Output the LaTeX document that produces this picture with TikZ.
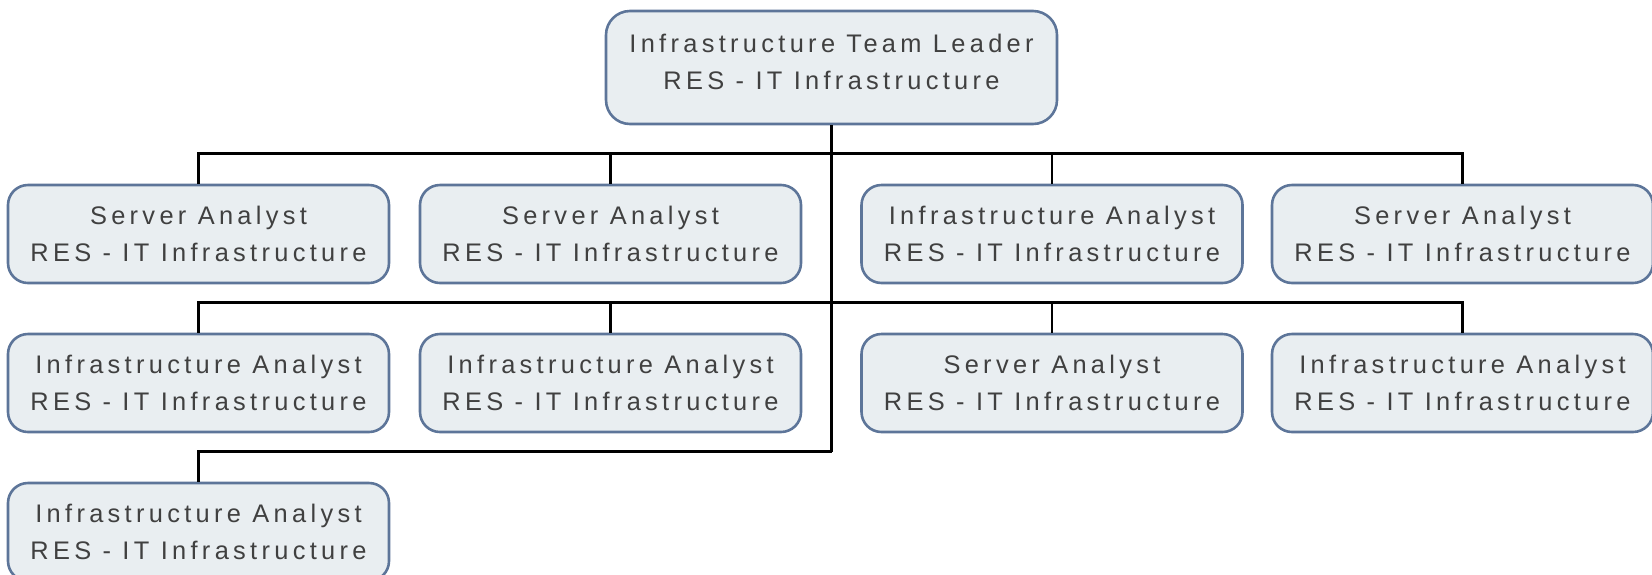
\documentclass[tikz,border=0pt]{standalone}
\usepackage{fontspec}
\usetikzlibrary{calc}
\setmainfont{Liberation Sans}[LetterSpace=17]
\definecolor{boxfill}{HTML}{E9EEF1}
\definecolor{boxline}{HTML}{5D7599}
\definecolor{txt}{HTML}{404040}
\begin{document}
\begin{tikzpicture}[x=0.5pt,y=-0.5pt,
  role/.style={draw=boxline, line width=1.3pt, fill=boxfill, rounded corners=10pt,
    minimum width=190.5pt, minimum height=49pt, inner sep=0pt, align=center,
    text=txt, font=\fontsize{12.7pt}{18.85pt}\selectfont},
  lead/.style={role, minimum width=225.5pt, minimum height=56.5pt, rounded corners=12pt},
  link/.style={line width=1.25pt, black}]
\useasboundingbox (0,0) rectangle (1652,574);
% boxes
\node[lead] (top) at (831.5,67.5) {\raisebox{2pt}[\height][\depth]{\begin{tabular}{@{}c@{}}Infrastructure Team Leader\\RES - IT Infrastructure\end{tabular}}};
\node[role] (a1) at (198.5,234) {Server Analyst\\RES - IT Infrastructure};
\node[role] (a2) at (610.5,234) {Server Analyst\\RES - IT Infrastructure};
\node[role] (a3) at (1052,234) {Infrastructure Analyst\\RES - IT Infrastructure};
\node[role] (a4) at (1462.5,234) {Server Analyst\\RES - IT Infrastructure};
\node[role] (b1) at (198.5,383) {Infrastructure Analyst\\RES - IT Infrastructure};
\node[role] (b2) at (610.5,383) {Infrastructure Analyst\\RES - IT Infrastructure};
\node[role] (b3) at (1052,383) {Server Analyst\\RES - IT Infrastructure};
\node[role] (b4) at (1462.5,383) {Infrastructure Analyst\\RES - IT Infrastructure};
\node[role] (c1) at (198.5,532) {Infrastructure Analyst\\RES - IT Infrastructure};
% bus coordinates
\coordinate (bus1) at ($(a1.north)+(0,-30)$);
\coordinate (bus2) at ($(b1.north)+(0,-30)$);
\coordinate (bus3) at ($(c1.north)+(0,-30)$);
% connectors
\draw[link] (top.south) -- (top.south |- bus3);
\draw[link] (a1.north) |- (a4.north |- bus1) -- (a4.north);
\draw[link] (a2.north) -- (a2.north |- bus1);
\draw[link] (a3.north) -- (a3.north |- bus1);
\draw[link] (b1.north) |- (b4.north |- bus2) -- (b4.north);
\draw[link] (b2.north) -- (b2.north |- bus2);
\draw[link] (b3.north) -- (b3.north |- bus2);
\draw[link] (c1.north) |- (top.south |- bus3);
\end{tikzpicture}
\end{document}
